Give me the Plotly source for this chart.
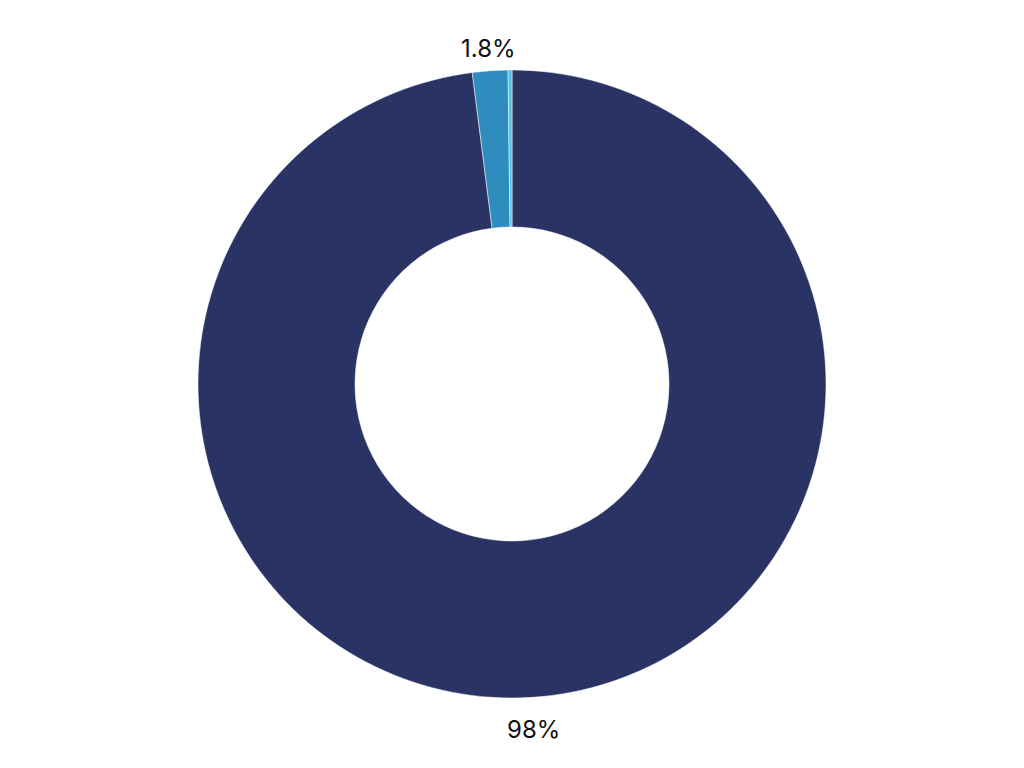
import math
import plotly.graph_objects as go

labels = ["A", "B", "C"]
values = [97.98, 1.82, 0.20]
colors = ["#293464", "#2E8CBE", "#4FC3E8"]
show_label = [True, True, False]

W, H = 1024.0, 768.0
# ring geometry in paper pixels (from left / from bottom)
cx, cy, R = 504.0, 392.0, 314.0
label_r = 341.0

fig = go.Figure()
fig.add_trace(go.Pie(
    labels=labels,
    values=values,
    hole=0.5,
    sort=False,
    direction="clockwise",
    rotation=0,
    marker=dict(colors=colors, line=dict(color="white", width=0.5)),
    textinfo="none",
    domain=dict(x=[(cx - 500) / W, (cx + 500) / W], y=[(cy - R) / H, (cy + R) / H]),
    showlegend=False,
))

total = sum(values)
cum = 0.0
annotations = []
for v, show in zip(values, show_label):
    mid = (cum + v / 2) / total * 2 * math.pi
    cum += v
    if not show:
        continue
    pct = v / total * 100
    txt = f"{pct:.2g}%"
    annotations.append(dict(
        x=(cx + label_r * math.sin(mid)) / W,
        y=(cy + label_r * math.cos(mid)) / H,
        xref="paper", yref="paper",
        xanchor="center", yanchor="middle",
        yshift=-5,
        text=txt, showarrow=False,
        font=dict(family="Inter", size=24, color="#111111"),
    ))

fig.update_layout(
    width=1024, height=768,
    margin=dict(l=0, r=0, t=0, b=0),
    paper_bgcolor="white",
    plot_bgcolor="white",
    annotations=annotations,
)
fig.write_html("out.html")
